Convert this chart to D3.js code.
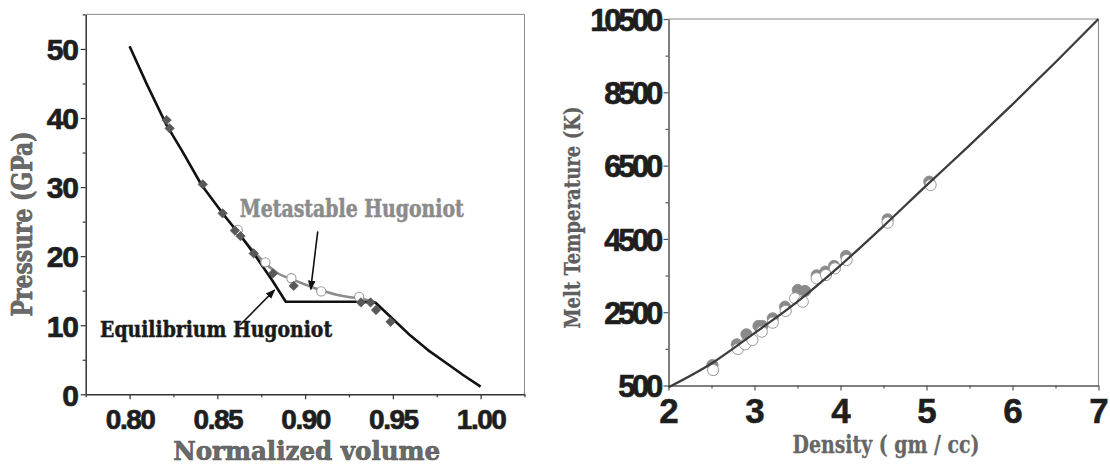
<!DOCTYPE html>
<html><head><meta charset="utf-8">
<script src="https://cdn.jsdelivr.net/npm/d3@7"></script>
<style>body{margin:0;background:#fff}svg{display:block}</style>
</head><body>
<svg id="c" width="1110" height="465"></svg>
<script>
// ---------- Left panel data ----------
const eqV = [0.800,0.810,0.821,0.830,0.841,0.853,0.864,0.871,0.8815,0.889,0.930,0.940,0.945,0.950,0.960,0.970,0.980,0.990,1.000];
const eqP = [50.4,44.8,39.0,35.2,30.3,26.2,22.7,20.3,16.4,13.4,13.4,13.3,12.1,10.9,8.5,6.4,4.6,2.8,1.1];
const msV = [0.864,0.870,0.876,0.884,0.893,0.900,0.910,0.920,0.930,0.938];
const msP = [22.7,20.9,19.3,17.6,16.6,15.9,15.0,14.3,13.9,13.5];
const diamondV = [0.8211,0.8228,0.8417,0.8530,0.8600,0.8632,0.8707,0.8817,0.8935,0.9318,0.9373,0.9404,0.9487];
const diamondP = [39.7,38.5,30.4,26.2,23.7,22.9,20.4,17.5,15.7,13.3,13.3,12.2,10.5];
const circleV = [0.8616,0.8774,0.8922,0.9092,0.9308];
const circleP = [23.8,19.1,16.8,14.9,14.1];
const volTicks = [0.80,0.85,0.90,0.95,1.00];
const volMinor = [0.775,0.825,0.875,0.925,0.975,1.025];
const presTicks = [0,10,20,30,40,50];
const presMinor = [5,15,25,35,45,55];

// ---------- Right panel data ----------
const fitD = [2.0,2.5,3.0,3.5,4.0,4.5,5.0,5.5,6.0,6.5,7.0];
const fitT = [450,1100,1930,2790,3780,4850,5960,7050,8170,9320,10500];
const filledD = [2.511,2.794,2.906,3.046,3.092,3.212,3.355,3.503,3.588,3.723,3.824,3.925,4.064,4.548,5.032];
const filledT = [1060,1625,1898,2125,2125,2334,2653,3107,3080,3508,3608,3762,4035,5036,6063];
const openD = [2.519,2.806,2.891,2.976,3.085,3.212,3.363,3.472,3.561,3.723,3.831,3.936,4.072,4.548,5.048];
const openT = [923,1496,1623,1741,1969,2214,2533,2878,2787,3424,3515,3697,3924,4943,5971];
const densTicks = [2,3,4,5,6,7];
const densMinor = [2.5,3.5,4.5,5.5,6.5];
const tempTicks = [500,2500,4500,6500,8500,10500];
const tempMinor = [1500,3500,5500,7500,9500];

const svg = d3.select("#c");
const tickFont = "'Liberation Sans', Arial, sans-serif";
const serifFont = "'DejaVu Serif Condensed', 'DejaVu Serif', serif";

// ================= LEFT PANEL =================
const xL = d3.scaleLinear().domain([0.775,1.025]).range([85.7,524.5]);
const yL = d3.scaleLinear().domain([0,55]).range([394.3,14.4]);

svg.append("path").attr("d", `M${xL(0.775)},${yL(55)}H${xL(1.025)}V${yL(0)}`)
  .attr("fill","none").attr("stroke","#8a8a8a").attr("stroke-width",1);

function styleAxis(g, col){
  g.select(".domain").attr("stroke", col).attr("stroke-width",1.5);
  g.selectAll(".tick line").attr("stroke", col).attr("stroke-width",1.2);
}

const gxL = svg.append("g").attr("transform",`translate(0,${yL(0)})`)
  .call(d3.axisBottom(xL).tickValues(volTicks).tickFormat(d3.format(".2f")).tickSize(5).tickSizeOuter(0));
styleAxis(gxL,"#333");
gxL.selectAll("text").attr("dy",null).attr("y",35)
  .attr("font-family",tickFont).attr("font-weight","bold").attr("font-size",28)
  .attr("letter-spacing","-1.5px").attr("fill","#1e1e1e").attr("stroke","#1e1e1e").attr("stroke-width",0.7);
const gxLm = svg.append("g").attr("transform",`translate(0,${yL(0)})`)
  .call(d3.axisBottom(xL).tickValues(volMinor).tickFormat("").tickSize(3).tickSizeOuter(0));
gxLm.select(".domain").remove();
gxLm.selectAll(".tick line").attr("stroke","#333").attr("stroke-width",1.2);

const gyL = svg.append("g").attr("transform",`translate(${xL(0.775)},0)`)
  .call(d3.axisLeft(yL).tickValues(presTicks).tickFormat(d3.format("d")).tickSize(5).tickSizeOuter(0));
styleAxis(gyL,"#333");
gyL.selectAll("text").attr("x",-7.7).attr("dy","0.36em")
  .attr("font-family",tickFont).attr("font-weight","bold").attr("font-size",30)
  .attr("letter-spacing","-1px").attr("fill","#1e1e1e").attr("stroke","#1e1e1e").attr("stroke-width",0.7);
const gyLm = svg.append("g").attr("transform",`translate(${xL(0.775)},0)`)
  .call(d3.axisLeft(yL).tickValues(presMinor).tickFormat("").tickSize(3).tickSizeOuter(0));
gyLm.select(".domain").remove();
gyLm.selectAll(".tick line").attr("stroke","#333").attr("stroke-width",1.2);

svg.append("text").attr("x",306.7).attr("y",460).attr("text-anchor","middle")
  .attr("font-family",serifFont).attr("font-weight","bold").attr("font-size",26)
  .attr("textLength",267).attr("lengthAdjust","spacingAndGlyphs")
  .attr("fill","#6a6a6a").attr("stroke","#555").attr("stroke-width",0.6)
  .text("Normalized volume");
svg.append("text").attr("transform","translate(32,224) rotate(-90)").attr("text-anchor","middle")
  .attr("font-family",serifFont).attr("font-weight","bold").attr("font-size",28)
  .attr("textLength",185).attr("lengthAdjust","spacingAndGlyphs")
  .attr("fill","#6a6a6a").attr("stroke","#555").attr("stroke-width",0.6)
  .text("Pressure (GPa)");

const lineL = d3.line().x(d=>xL(d[0])).y(d=>yL(d[1]));
svg.append("path").attr("d", lineL.curve(d3.curveMonotoneX)(msV.map((v,i)=>[v,msP[i]])))
  .attr("fill","none").attr("stroke","#8c8c8c").attr("stroke-width",2.6);
svg.append("path").attr("d", lineL.curve(d3.curveLinear)(eqV.map((v,i)=>[v,eqP[i]])))
  .attr("fill","none").attr("stroke","#111").attr("stroke-width",2.6).attr("stroke-linejoin","round");

svg.append("g").selectAll("circle").data(circleV.map((v,i)=>[v,circleP[i]])).join("circle")
  .attr("cx",d=>xL(d[0])).attr("cy",d=>yL(d[1])).attr("r",4.6)
  .attr("fill","#fff").attr("stroke","#9a9a9a").attr("stroke-width",1.1);
const sq = d3.symbol().type(d3.symbolSquare).size(44);
svg.append("g").selectAll("path").data(diamondV.map((v,i)=>[v,diamondP[i]])).join("path")
  .attr("d",sq).attr("transform",d=>`translate(${xL(d[0])},${yL(d[1])}) rotate(45)`)
  .attr("fill","#595959").attr("stroke","#4a4a4a").attr("stroke-width",0.6);

const defs = svg.append("defs");
defs.append("marker").attr("id","ah").attr("viewBox","0 0 10 10").attr("refX",9).attr("refY",5)
  .attr("markerWidth",6).attr("markerHeight",6).attr("orient","auto-start-reverse")
  .append("path").attr("d","M0,1 L10,5 L0,9 Z").attr("fill","#111");
const arrows = [
  {from:[0.9072,23.6], to:[0.9032,15.2]},
  {from:[0.8628,10.0], to:[0.8826,15.1]}
];
svg.append("g").selectAll("line").data(arrows).join("line")
  .attr("x1",d=>xL(d.from[0])).attr("y1",d=>yL(d.from[1]))
  .attr("x2",d=>xL(d.to[0])).attr("y2",d=>yL(d.to[1]))
  .attr("stroke","#111").attr("stroke-width",1.6).attr("marker-end","url(#ah)");
svg.append("text").attr("x",xL(0.8628)).attr("y",yL(25.7))
  .attr("font-family",serifFont).attr("font-weight","bold").attr("font-size",24)
  .attr("textLength",224).attr("lengthAdjust","spacingAndGlyphs")
  .attr("fill","#8c8c8c").attr("stroke","#888").attr("stroke-width",0.5)
  .text("Metastable Hugoniot");
svg.append("text").attr("x",xL(0.7832)).attr("y",yL(8.3))
  .attr("font-family",serifFont).attr("font-weight","bold").attr("font-size",23)
  .attr("textLength",232).attr("lengthAdjust","spacingAndGlyphs")
  .attr("fill","#1a1a1a").attr("stroke","#1a1a1a").attr("stroke-width",0.5)
  .text("Equilibrium Hugoniot");

// ================= RIGHT PANEL =================
const xR = d3.scaleLinear().domain([2,7]).range([668.5,1098.5]);
const yR = d3.scaleLinear().domain([500,10500]).range([385.5,19]);

svg.append("path").attr("d", `M${xR(2)},${yR(10500)}H${xR(7)}V${yR(500)}`)
  .attr("fill","none").attr("stroke","#8a8a8a").attr("stroke-width",1);

const gxR = svg.append("g").attr("transform",`translate(0,${yR(500)})`)
  .call(d3.axisBottom(xR).tickValues(densTicks).tickFormat(d3.format("d")).tickSize(5).tickSizeOuter(0));
styleAxis(gxR,"#555");
gxR.selectAll("text").attr("dy",null).attr("y",37.5)
  .attr("font-family",tickFont).attr("font-weight","bold").attr("font-size",35)
  .attr("fill","#1e1e1e").attr("stroke","#1e1e1e").attr("stroke-width",0.5);
const gxRm = svg.append("g").attr("transform",`translate(0,${yR(500)})`)
  .call(d3.axisBottom(xR).tickValues(densMinor).tickFormat("").tickSize(3).tickSizeOuter(0));
gxRm.select(".domain").remove();
gxRm.selectAll(".tick line").attr("stroke","#555").attr("stroke-width",1.2);

const gyR = svg.append("g").attr("transform",`translate(${xR(2)},0)`)
  .call(d3.axisLeft(yR).tickValues(tempTicks).tickFormat(d3.format("d")).tickSize(5).tickSizeOuter(0));
styleAxis(gyR,"#555");
gyR.selectAll("text").attr("x",-8.5).attr("dy","0.36em")
  .attr("font-family",tickFont).attr("font-weight","bold").attr("font-size",31)
  .attr("letter-spacing","-3.3px").attr("fill","#1e1e1e").attr("stroke","#1e1e1e").attr("stroke-width",0.7);
const gyRm = svg.append("g").attr("transform",`translate(${xR(2)},0)`)
  .call(d3.axisLeft(yR).tickValues(tempMinor).tickFormat("").tickSize(3).tickSizeOuter(0));
gyRm.select(".domain").remove();
gyRm.selectAll(".tick line").attr("stroke","#555").attr("stroke-width",1.2);

svg.append("text").attr("x",886).attr("y",453).attr("text-anchor","middle")
  .attr("font-family",serifFont).attr("font-weight","bold").attr("font-size",25)
  .attr("textLength",187).attr("lengthAdjust","spacingAndGlyphs")
  .attr("fill","#666").attr("stroke","#666").attr("stroke-width",0.3)
  .text("Density ( gm / cc)");
svg.append("text").attr("transform","translate(580,217.5) rotate(-90)").attr("text-anchor","middle")
  .attr("font-family",serifFont).attr("font-weight","bold").attr("font-size",23)
  .attr("textLength",222).attr("lengthAdjust","spacingAndGlyphs")
  .attr("fill","#5e5e5e").attr("stroke","#5e5e5e").attr("stroke-width",0.3)
  .text("Melt Temperature (K)");

svg.append("g").selectAll("circle").data(filledD.map((d,i)=>[d,filledT[i]])).join("circle")
  .attr("cx",d=>xR(d[0])).attr("cy",d=>yR(d[1])).attr("r",5.6)
  .attr("fill","#8a8a8a").attr("stroke","#888").attr("stroke-width",0.8);
svg.append("g").selectAll("circle").data(openD.map((d,i)=>[d,openT[i]])).join("circle")
  .attr("cx",d=>xR(d[0])).attr("cy",d=>yR(d[1])).attr("r",5.6)
  .attr("fill","#fff").attr("stroke","#9a9a9a").attr("stroke-width",1);

const lineR = d3.line().x(d=>xR(d[0])).y(d=>yR(d[1])).curve(d3.curveMonotoneX);
svg.append("path").attr("d", lineR(fitD.map((d,i)=>[d,fitT[i]])))
  .attr("fill","none").attr("stroke","#3c3c3c").attr("stroke-width",2.3);
</script>
</body></html>
